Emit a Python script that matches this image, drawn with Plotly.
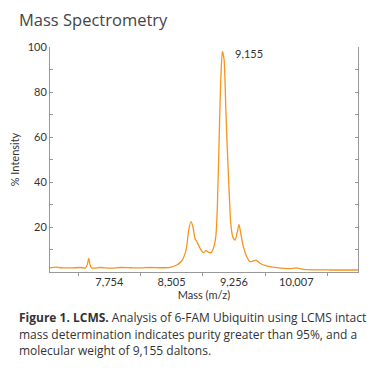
import plotly.graph_objects as go

mass = [7040, 7106, 7166, 7286, 7406, 7467, 7491, 7506, 7521, 7539, 7647, 7767, 7887,
        8007, 8127, 8248, 8368, 8488, 8568, 8628, 8668, 8689, 8708, 8737, 8761, 8788,
        8809, 8848, 8888, 8920, 8948, 8981, 9008, 9037, 9056, 9077, 9097, 9116, 9137,
        9157, 9176, 9197, 9217, 9241, 9269, 9297, 9317, 9341, 9369, 9410, 9449, 9489,
        9521, 9569, 9650, 9770, 9930, 10010, 10090, 10410, 10755]
intensity = [1.8, 2.2, 1.9, 1.8, 2.0, 1.8, 3.5, 6.1, 3.5, 1.8, 2.0, 1.7, 2.0,
             1.9, 1.8, 2.0, 1.9, 2.1, 3.1, 5.0, 8.3, 12.0, 18.0, 22.4, 20.2, 14.7,
             13.5, 10.5, 8.6, 9.5, 8.8, 8.6, 10.5, 15.7, 29.0, 58.8, 85.5, 98.0, 94.4,
             73.6, 54.3, 36.5, 21.7, 15.7, 14.2, 17.9, 21.2, 16.5, 11.3, 6.8, 4.6, 4.9,
             5.3, 3.9, 2.7, 1.9, 1.5, 1.8, 1.2, 0.9, 0.9]

x_ticks = [7754, 8505, 9256, 10007]
x_ticklabels = ["7,754", "8,505", "9,256", "10,007"]
y_ticks = [10, 20, 30, 40, 50, 60, 70, 80, 90, 100]
y_ticklabels = ["", "20", "", "40", "", "60", "", "80", "", "100"]
peak_label = "9,155"
peak_pos = [9240, 97]

title_text = "Mass Spectrometry"
caption_lines = [
    "<b>Figure 1. LCMS.</b> Analysis of 6-FAM Ubiquitin using LCMS intact",
    "mass determination indicates purity greater than 95%, and a",
    "molecular weight of 9,155 daltons.",
]

fig = go.Figure()
fig.add_trace(go.Scatter(x=mass, y=intensity, mode="lines",
                         line=dict(color="#F7941D", width=1.3, shape="spline", smoothing=0.6),
                         hoverinfo="skip", showlegend=False))

axis_font = dict(family="Lato, sans-serif", size=11, color="#333333")
# the page body adds an 8px offset, so the figure is sized to fit the remaining window
fig.update_layout(
    width=380, height=367,
    margin=dict(l=41.5, r=29.5, t=39, b=103),
    paper_bgcolor="white", plot_bgcolor="white",
    xaxis=dict(range=[7040, 10750], tickvals=x_ticks, ticktext=x_ticklabels,
               ticks="", showgrid=False, zeroline=False, automargin=False,
               showline=True, linecolor="#999999", linewidth=1,
               tickfont=axis_font,
               minor=dict(tick0=7378.5, dtick=751, ticks="outside", ticklen=3,
                          tickcolor="#999999", showgrid=False),
               title=dict(text="Mass (m/z)", font=axis_font, standoff=4)),
    yaxis=dict(range=[0, 100], tickvals=y_ticks, ticktext=y_ticklabels,
               ticks="inside", ticklen=3, tickcolor="#999999",
               showgrid=False, zeroline=False, automargin=False,
               showline=True, linecolor="#999999", linewidth=1, mirror="ticks",
               tickfont=axis_font,
               title=dict(text="% Intensity", font=axis_font, standoff=6)),
    font=dict(family="Open Sans, sans-serif", color="#333333"),
)

fig.add_annotation(x=peak_pos[0], y=peak_pos[1], text=peak_label, showarrow=False,
                   xanchor="left", yanchor="middle", font=axis_font)

fig.add_annotation(xref="paper", yref="paper", x=-0.1084, y=1.1215, text=title_text,
                   showarrow=False, xanchor="left", yanchor="middle",
                   font=dict(family="Open Sans, sans-serif", size=16.5, color="#444444"))

cap_y = [-0.2003, -0.2759, -0.3502]
for t, yy in zip(caption_lines, cap_y):
    fig.add_annotation(xref="paper", yref="paper", x=-0.1084, y=yy, text=t,
                       showarrow=False, xanchor="left", yanchor="middle",
                       font=dict(family="Open Sans, sans-serif", size=12, color="#333333"))

fig.write_html("out.html")
